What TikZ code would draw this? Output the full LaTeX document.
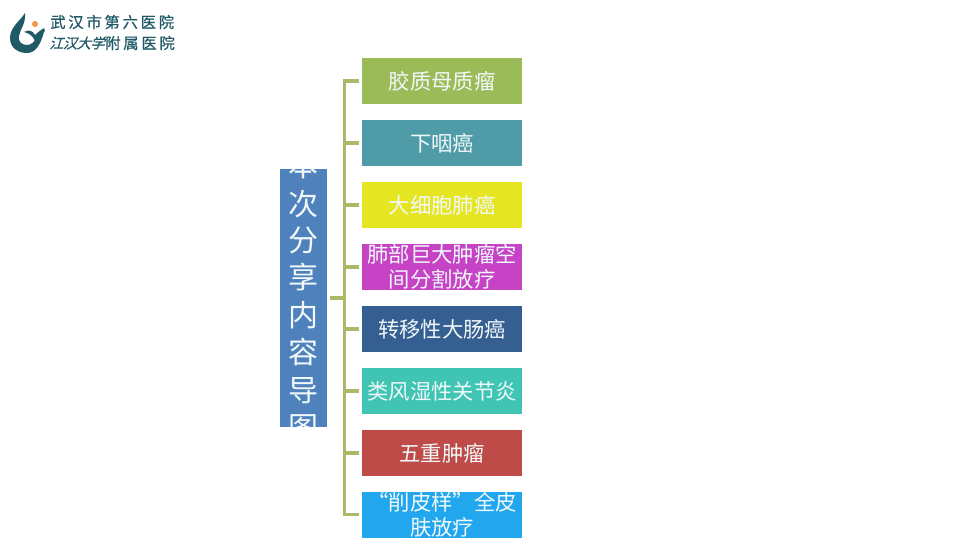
\documentclass[tikz,border=0pt]{standalone}
\usepackage{fontspec}
\setmainfont{Noto Sans CJK SC}
\newfontfamily\logofont[LetterSpace=18,FakeBold=0.6]{Noto Sans CJK SC}
\newfontfamily\logoslant[LetterSpace=-2,FakeSlant=0.3,FakeBold=0.6]{Noto Sans CJK SC}
\definecolor{logoteal}{HTML}{1F5A66}
\definecolor{connc}{HTML}{A9BB66}
\definecolor{rootblue}{HTML}{4F81BD}
\definecolor{c1}{HTML}{9BBB59}
\definecolor{c2}{HTML}{4F9BA8}
\definecolor{c3}{HTML}{E6E522}
\definecolor{c4}{HTML}{C643C6}
\definecolor{c5}{HTML}{365F91}
\definecolor{c6}{HTML}{40C4B4}
\definecolor{c7}{HTML}{BE4B48}
\definecolor{c8}{HTML}{22A7EE}
\definecolor{softwhite}{HTML}{F0F8FA}
\tikzset{
  px/.style={x=0.75pt,y=-0.75pt},
  topicbox/.style={rectangle,minimum width=120pt,minimum height=34.5pt,inner sep=0pt,text=softwhite,
    align=center,font=\fontsize{16pt}{18.5pt}\selectfont,text width=120pt},
  rootbox/.style={rectangle,fill=#1,minimum width=35.25pt,minimum height=193.5pt,inner sep=0pt},
  roottext/.style={text=softwhite,font=\fontsize{22.5pt}{25pt}\selectfont,inner sep=0pt},
  conn/.style={draw=connc,line width=2.6pt,shorten <=2.2pt,shorten >=2.2pt},
  logotext/.style={text=logoteal,inner sep=0pt,anchor=west}
}
\begin{document}
\begin{tikzpicture}[px]
\useasboundingbox (0,0) rectangle (960,540);
\fill[white] (0,0) rectangle (960,540);
% logo
\fill[logoteal] (25,13) .. controls (21,20) and (10,27) .. (10,38)
  .. controls (10,48) and (18,53) .. (27,53)
  .. controls (35,53) and (40,46) .. (44,32)
  -- (37,36) .. controls (35,42) and (31,45) .. (27,45)
  .. controls (21,45) and (18,41) .. (19,36)
  .. controls (20,29) and (26,24) .. (25,13) -- cycle;
\fill[logoteal] (24,32) .. controls (29,29) and (33,31) .. (35,35)
  .. controls (38,32) and (41,30) .. (44,28) -- (45,31)
  .. controls (41,34) and (38,38) .. (35,41)
  .. controls (33,36) and (29,33) .. (24,32) -- cycle;
\fill[orange!60!brown!80!white] (35,24) circle (3);
\node[logotext] (logoa) at (50,22) {\logofont\fontsize{11.5pt}{13pt}\selectfont 武汉市第六医院};
\node[logotext] (logob) at (49,43) {\logoslant\fontsize{10.5pt}{13pt}\selectfont 江汉大学};
\node[logotext] (logoc) at (105,43) {\logofont\fontsize{11.5pt}{13pt}\selectfont 附属医院};
% root
\node[rootbox=rootblue] (root) at (303.5,298) {};
\begin{scope}
  \clip (root.south west) rectangle (root.north east);
  \foreach \chr/\yy in {本/165,次/204,分/240,享/277,内/315,容/352,导/391,图/428}
    \node[roottext] at (303.5,\yy) {\chr};
\end{scope}
% topics
\node[topicbox,fill=c1] (b1) at (442,81) {胶质母质瘤};
\node[topicbox,fill=c2] (b2) at (442,143) {下咽癌};
\node[topicbox,fill=c3] (b3) at (442,205) {大细胞肺癌};
\node[topicbox,fill=c4] (b4) at (442,267) {肺部巨大肿瘤空\\间分割放疗};
\node[topicbox,fill=c5] (b5) at (442,329) {转移性大肠癌};
\node[topicbox,fill=c6] (b6) at (442,391) {类风湿性关节炎};
\node[topicbox,fill=c7] (b7) at (442,453) {五重肿瘤};
\node[topicbox,fill=c8] (b8) at (442,514.5) {“削皮样”全皮\\肤放疗};
\foreach \i in {1,...,8}
  \draw[conn] (root.east) -- ++(17,0) |- (b\i.west);
\end{tikzpicture}
\end{document}
